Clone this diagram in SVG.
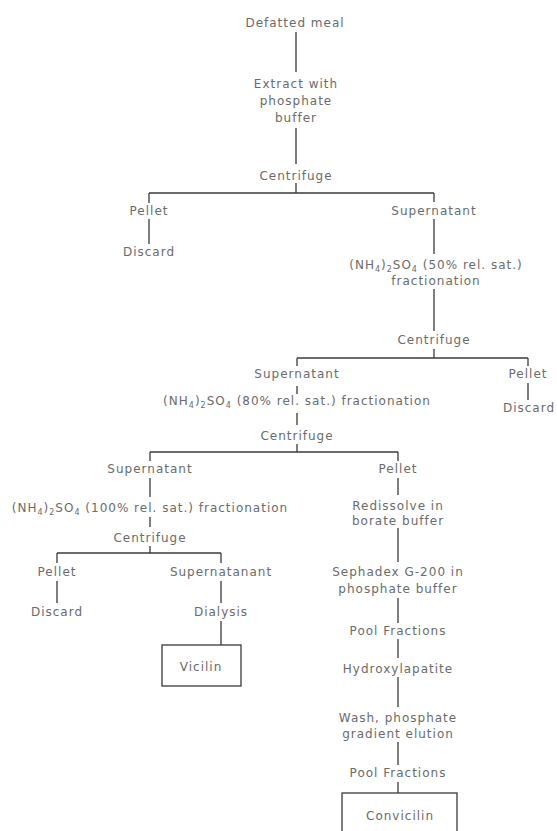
<svg xmlns="http://www.w3.org/2000/svg" width="557" height="831" viewBox="0 0 557 831">
<style>
.t{font-family:"DejaVu Sans","Liberation Sans",sans-serif;font-size:12px;letter-spacing:1px;fill:#6b6b6b;text-anchor:middle}
.s{font-size:8px}
.c line{stroke:#3a3a3a;stroke-width:1.3}
.box{fill:none;stroke:#3a3a3a;stroke-width:1.3}
</style>
<rect width="557" height="831" fill="#ffffff"/>
<g class="c" id="connectors">
<line x1="296" y1="32" x2="296" y2="72"/>
<line x1="296" y1="128" x2="296" y2="164"/>
<line x1="296" y1="183" x2="296" y2="193"/>
<line x1="149" y1="193" x2="434" y2="193"/>
<line x1="149" y1="193" x2="149" y2="203"/>
<line x1="434" y1="193" x2="434" y2="202"/>
<line x1="149" y1="219" x2="149" y2="244"/>
<line x1="434" y1="219" x2="434" y2="254"/>
<line x1="434" y1="289" x2="434" y2="331"/>
<line x1="434" y1="349" x2="434" y2="358"/>
<line x1="297" y1="358" x2="528" y2="358"/>
<line x1="297" y1="358" x2="297" y2="366"/>
<line x1="528" y1="358" x2="528" y2="366"/>
<line x1="528" y1="383" x2="528" y2="400"/>
<line x1="297" y1="386" x2="297" y2="394"/>
<line x1="297" y1="413" x2="297" y2="425"/>
<line x1="297" y1="444" x2="297" y2="452"/>
<line x1="150" y1="452" x2="398" y2="452"/>
<line x1="150" y1="452" x2="150" y2="461"/>
<line x1="398" y1="452" x2="398" y2="461"/>
<line x1="150" y1="478" x2="150" y2="497"/>
<line x1="150" y1="517" x2="150" y2="527"/>
<line x1="150" y1="546" x2="150" y2="553"/>
<line x1="57" y1="553" x2="221" y2="553"/>
<line x1="57" y1="553" x2="57" y2="563"/>
<line x1="221" y1="553" x2="221" y2="563"/>
<line x1="57" y1="581" x2="57" y2="603"/>
<line x1="221" y1="581" x2="221" y2="603"/>
<line x1="221" y1="621" x2="221" y2="645"/>
<line x1="398" y1="478" x2="398" y2="495"/>
<line x1="398" y1="528" x2="398" y2="562"/>
<line x1="398" y1="598" x2="398" y2="623"/>
<line x1="398" y1="639" x2="398" y2="658"/>
<line x1="398" y1="677" x2="398" y2="707"/>
<line x1="398" y1="742" x2="398" y2="765"/>
<line x1="398" y1="782" x2="398" y2="793"/>
</g>
<g id="defatted"><text class="t" x="295" y="26.5">Defatted meal</text></g>
<g id="extract"><text class="t" x="296" y="87.5">Extract with</text><text class="t" x="296" y="104.5">phosphate</text><text class="t" x="296" y="121.5">buffer</text></g>
<g id="centrifuge1"><text class="t" x="296" y="179.5">Centrifuge</text></g>
<g id="pellet1"><text class="t" x="149" y="214.5">Pellet</text></g>
<g id="discard1"><text class="t" x="149" y="255.5">Discard</text></g>
<g id="supernatant1"><text class="t" x="434" y="214.5">Supernatant</text></g>
<g id="nh4_50"><text class="t" x="436" y="268.5">(NH<tspan class="s" dy="3">4</tspan><tspan dy="-3">)</tspan><tspan class="s" dy="3">2</tspan><tspan dy="-3">SO</tspan><tspan class="s" dy="3">4</tspan><tspan dy="-3"> (50% rel. sat.)</tspan></text><text class="t" x="436" y="284.5">fractionation</text></g>
<g id="centrifuge2"><text class="t" x="434" y="343.5">Centrifuge</text></g>
<g id="supernatant2"><text class="t" x="297" y="377.5">Supernatant</text></g>
<g id="pellet2"><text class="t" x="528" y="377.5">Pellet</text></g>
<g id="discard2"><text class="t" x="529" y="411.5">Discard</text></g>
<g id="nh4_80"><text class="t" x="297" y="404.5">(NH<tspan class="s" dy="3">4</tspan><tspan dy="-3">)</tspan><tspan class="s" dy="3">2</tspan><tspan dy="-3">SO</tspan><tspan class="s" dy="3">4</tspan><tspan dy="-3"> (80% rel. sat.) fractionation</tspan></text></g>
<g id="centrifuge3"><text class="t" x="297" y="439.5">Centrifuge</text></g>
<g id="supernatant3"><text class="t" x="150" y="472.5">Supernatant</text></g>
<g id="pellet3"><text class="t" x="398" y="472.5">Pellet</text></g>
<g id="nh4_100"><text class="t" x="150" y="511.5">(NH<tspan class="s" dy="3">4</tspan><tspan dy="-3">)</tspan><tspan class="s" dy="3">2</tspan><tspan dy="-3">SO</tspan><tspan class="s" dy="3">4</tspan><tspan dy="-3"> (100% rel. sat.) fractionation</tspan></text></g>
<g id="centrifuge4"><text class="t" x="150" y="541.5">Centrifuge</text></g>
<g id="redissolve"><text class="t" x="398" y="509.5">Redissolve in</text><text class="t" x="398" y="524.5">borate buffer</text></g>
<g id="pellet4"><text class="t" x="57" y="575.5">Pellet</text></g>
<g id="supernatanant"><text class="t" x="221" y="575.5">Supernatanant</text></g>
<g id="discard3"><text class="t" x="57" y="615.5">Discard</text></g>
<g id="dialysis"><text class="t" x="221" y="615.5">Dialysis</text></g>
<g id="vicilin"><rect class="box" x="162" y="645" width="79" height="41"/><text class="t" x="201" y="671">Vicilin</text></g>
<g id="sephadex"><text class="t" x="398" y="575.5">Sephadex G-200 in</text><text class="t" x="398" y="592.5">phosphate buffer</text></g>
<g id="pool1"><text class="t" x="398" y="634.5">Pool Fractions</text></g>
<g id="hydroxylapatite"><text class="t" x="398" y="672.5">Hydroxylapatite</text></g>
<g id="wash"><text class="t" x="398" y="721.5">Wash, phosphate</text><text class="t" x="398" y="737.5">gradient elution</text></g>
<g id="pool2"><text class="t" x="398" y="777">Pool Fractions</text></g>
<g id="convicilin"><rect class="box" x="342" y="793" width="115" height="50"/><text class="t" x="400" y="820">Convicilin</text></g>
</svg>
